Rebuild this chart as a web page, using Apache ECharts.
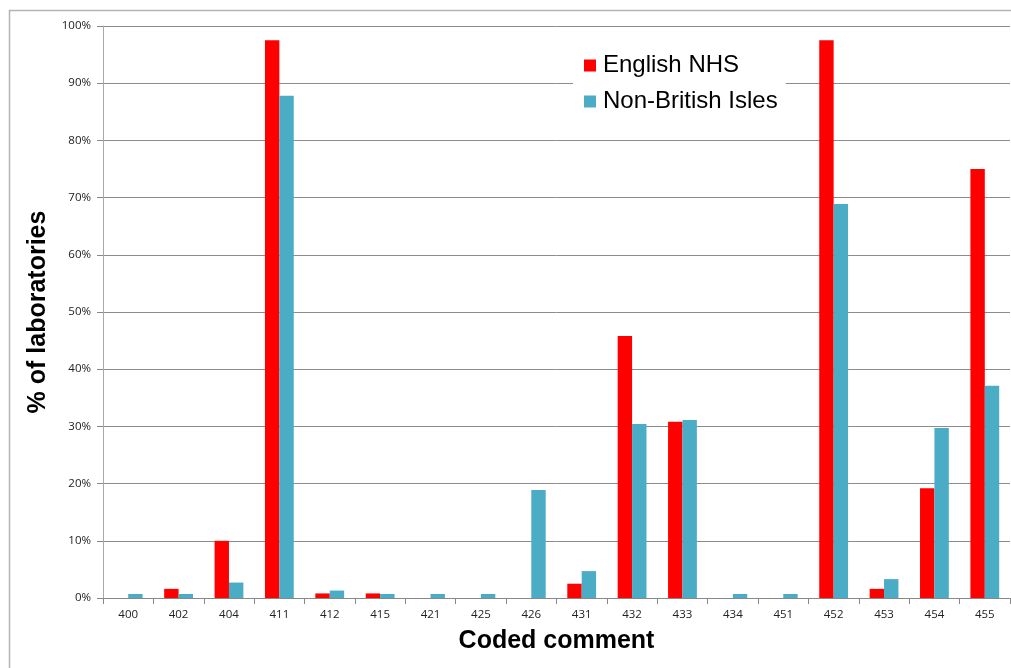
<!DOCTYPE html>
<html>
<head>
<meta charset="utf-8">
<title>Coded comment</title>
<script src="https://cdn.jsdelivr.net/npm/echarts@6/dist/echarts.min.js"></script>
<style>
  html, body { margin: 0; padding: 0; background: #fff; }
  #chart { width: 1011px; height: 668px; }
</style>
</head>
<body>
<div id="chart"></div>
<script>
// Coded comment categories
const categories = ['400', '402', '404', '411', '412', '415', '421', '425', '426',
  '431', '432', '433', '434', '451', '452', '453', '454', '455'];

// Percentage of laboratories using each coded comment
const englishNHS = [0, 1.6, 10.0, 97.5, 0.8, 0.8, 0, 0, 0,
  2.5, 45.8, 30.8, 0, 0, 97.5, 1.6, 19.2, 75.0];
const nonBritishIsles = [0.7, 0.7, 2.7, 87.8, 1.3, 0.7, 0.7, 0.7, 18.9,
  4.7, 30.4, 31.1, 0.7, 0.7, 68.9, 3.3, 29.7, 37.1];

const yTicks = { min: 0, max: 100, interval: 10 };

const chart = echarts.init(document.getElementById('chart'), null, { renderer: 'canvas' });

const tickFont = { fontFamily: 'Open Sans, Noto Sans, sans-serif', fontSize: 11.5, color: '#222' };
const titleFont = { fontFamily: 'Liberation Sans, Arial, sans-serif', fontWeight: 'bold', fontSize: 25, color: '#000' };

chart.setOption({
  animation: false,
  backgroundColor: '#ffffff',
  graphic: [{
    type: 'rect',
    shape: { x: 9.5, y: 10.5, width: 1100, height: 700 },
    style: { fill: 'none', stroke: '#b4b4b4', lineWidth: 1.5 },
    silent: true,
    z: -10
  }],
  grid: { left: 103, right: 1, top: 26, bottom: 70, containLabel: false },
  legend: {
    orient: 'vertical',
    left: 573,
    top: 47,
    padding: [6, 8, 7, 11],
    backgroundColor: '#ffffff',
    itemWidth: 12,
    itemHeight: 12,
    itemGap: 11,
    icon: 'rect',
    textStyle: { fontFamily: 'Liberation Sans, Arial, sans-serif', fontSize: 24, color: '#000', padding: [0, 0, 0, 2], lineHeight: 25 },
    data: ['English NHS', 'Non-British Isles']
  },
  xAxis: {
    type: 'category',
    data: categories,
    name: 'Coded comment',
    nameLocation: 'middle',
    nameGap: 31,
    nameTextStyle: titleFont,
    axisLine: { show: true, lineStyle: { color: '#888', width: 1 } },
    axisTick: { show: true, alignWithLabel: false, length: 6, lineStyle: { color: '#888' } },
    axisLabel: Object.assign({ margin: 11, interval: 0 }, tickFont),
    splitLine: { show: false }
  },
  yAxis: {
    type: 'value',
    min: yTicks.min,
    max: yTicks.max,
    interval: yTicks.interval,
    name: '% of laboratories',
    nameLocation: 'middle',
    nameGap: 43,
    nameRotate: 90,
    nameTextStyle: titleFont,
    axisLine: { show: true, lineStyle: { color: '#aaa', width: 1 } },
    axisTick: { show: true, inside: false, length: 6, lineStyle: { color: '#888' } },
    axisLabel: Object.assign({ margin: 12, formatter: '{value}%' }, tickFont),
    splitLine: { show: true, lineStyle: { color: '#8c8c8c', width: 1 } }
  },
  series: [
    {
      name: 'English NHS',
      type: 'bar',
      data: englishNHS,
      barWidth: 14.4,
      barGap: '0%',
      itemStyle: { color: '#ff0000' }
    },
    {
      name: 'Non-British Isles',
      type: 'bar',
      data: nonBritishIsles,
      barWidth: 14.4,
      barGap: '0%',
      itemStyle: { color: '#4bacc6' }
    }
  ]
});
</script>
</body>
</html>
